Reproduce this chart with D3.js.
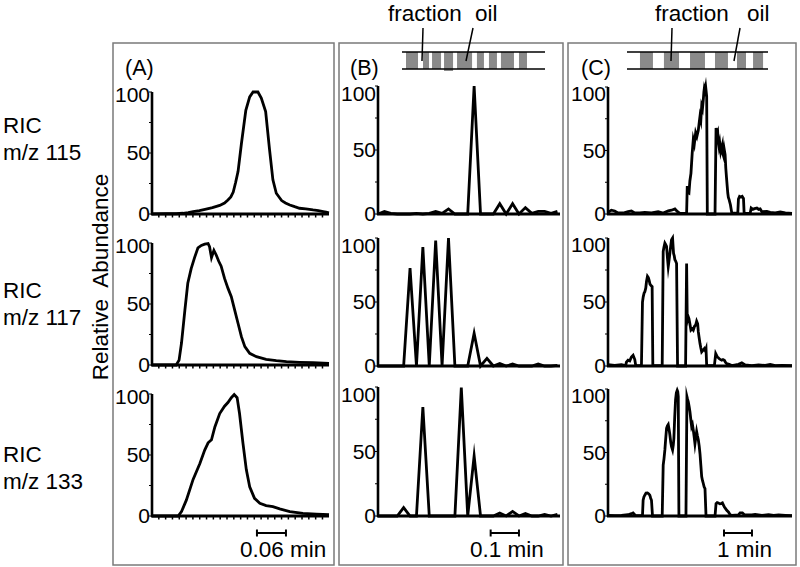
<!DOCTYPE html>
<html><head><meta charset="utf-8">
<script src="https://cdn.jsdelivr.net/npm/d3@7/dist/d3.min.js"></script>
<style>body{margin:0;background:#fff}svg{display:block}text{font-family:"Liberation Sans",Arial,Helvetica,sans-serif;fill:#000}</style>
</head><body><svg id="c" width="800" height="567"></svg>
<script>
// ---------- data ----------
const rowLabels = [["RIC","m/z 115"],["RIC","m/z 117"],["RIC","m/z 133"]];
const panelLabels = ["(A)","(B)","(C)"];
const yTickValues = [0, 50, 100];
const yTickLabels = ["0","50","100"];
const yMinorTicks = [25, 75];
const scaleBarLabels = ["0.06 min","0.1 min","1 min"];
const diagramTexts = ["fraction","oil"];

// Panel A: [time (min), relative abundance]
const panelA_mz115 = [[0,0],[0.030,0.3],[0.050,0.2],[0.064,0.6],[0.075,1.2],[0.085,2],[0.098,2.8],[0.112,4],[0.125,5.2],[0.140,7],[0.150,9],[0.157,11.5],[0.163,14],[0.168,18],[0.173,26],[0.178,35],[0.185,58],[0.194,85],[0.202,96],[0.209,100],[0.219,100],[0.226,95],[0.235,84],[0.243,53],[0.250,28],[0.257,17],[0.268,11],[0.276,9],[0.285,7.4],[0.295,6],[0.305,4.7],[0.318,4.2],[0.333,3.3],[0.344,2.8],[0.354,2],[0.360,1.5],[0.366,1]];
const panelA_mz117 = [[0,0],[0.050,0],[0.056,4],[0.061,18],[0.068,45],[0.074,67],[0.081,79],[0.088,88],[0.095,96],[0.102,98],[0.109,99],[0.116,99.5],[0.119,97],[0.123,88],[0.128,94],[0.133,90],[0.138,85],[0.143,81],[0.150,71],[0.157,63],[0.164,56],[0.171,45],[0.178,34],[0.185,23],[0.192,15],[0.202,9.6],[0.216,6.8],[0.236,4.7],[0.257,3.6],[0.278,2.7],[0.305,2.2],[0.333,1.9],[0.366,1.4]];
const panelA_mz133 = [[0,0],[0.054,0],[0.061,3.6],[0.071,13],[0.085,30],[0.099,43],[0.109,54],[0.116,60],[0.123,62.5],[0.130,73],[0.140,84],[0.150,90],[0.157,93],[0.164,97],[0.170,99.5],[0.176,97],[0.181,84],[0.188,60],[0.195,38],[0.202,24],[0.212,14.5],[0.223,10.4],[0.236,8.5],[0.250,7.7],[0.264,5.8],[0.285,3.6],[0.312,2.2],[0.340,1.6],[0.366,1.1]];

// Panel B: relative abundance per scan (scan number = index)
const panelB_mz115 = [0,2,0.5,0,0,0,0.5,0,0.5,2,0.5,4,0,0,0,100,0,0,0,8,0,8,0,5,0.5,2,2,0.5,2];
const panelB_mz117 = [0,0,0,0,0,76.5,0,93,0,98,0,100,0,0,0,25.6,0,6,0,2,0,1.5,0,0,0,1.5,0,0,0.5];
const panelB_mz133 = [0,0,0,0,6.5,0,0,84.5,0,0,0,0,0,99.5,0,46.5,0,0,0,2.3,0,3.6,0,2,0,0,1.3,0,1.3];

// Panel C: [time (s), relative abundance]
const panelC_mz115 = [[0,1.3],[7.2,3],[14.3,2.4],[21.5,0.8],[32.3,0.8],[43,1.8],[50.2,2.4],[57.4,0.8],[68.1,0.8],[78.9,1.3],[93.2,0.8],[107.6,1.8],[118.3,0.8],[129.1,2.4],[136.2,3],[143.4,4],[149.1,1.8],[154.2,0.5],[168.5,0.5],[169.9,22],[171.5,17],[173.5,16.5],[175.5,26],[177.8,32],[180.5,48],[182.8,58.5],[185,55],[187.9,64],[190.5,61],[193.6,66],[195.5,72],[197.2,77],[199,74],[200.8,85],[202.5,83],[204.3,90],[205.5,96],[206.5,99],[208,97],[209.4,100],[211.5,92.6],[212.9,0],[229.4,0],[231.6,67.7],[233.5,62],[235.2,64],[236.5,57],[238,53],[239.5,56],[241.6,49],[243.5,52],[245.2,54.6],[246.5,47],[248.1,45],[249.5,50],[251,46.7],[252.5,36],[253.8,29.6],[255.5,22],[256.7,16.5],[258,13],[259.6,11.3],[262.4,7.3],[265.3,0.8],[278.2,0.5],[279.6,11.8],[282,13.9],[284.6,13.4],[287.5,13.9],[290.4,12.3],[291.8,0.5],[304.7,0.5],[306.9,4.7],[310.5,3.6],[314,4.2],[319.1,4.7],[322.7,3.6],[326.2,4],[329.8,1.8],[340.6,2],[347.7,1.3],[358.5,0.8],[369.3,1.6],[380,0.8],[394.4,0.5]];
const panelC_mz117 = [[0,1],[14.3,0.5],[28.7,1],[38,0.3],[39.4,3],[43,4.5],[46.6,4],[50.2,7],[53.8,8.4],[57.4,5],[59.5,0.3],[71.7,0.3],[73.9,50],[75.5,54],[77.4,57],[79,58],[81,61],[82.5,66],[84.6,70],[86.5,69],[88.2,67],[90,64],[91.8,63],[94.6,62],[96.1,0.3],[116.2,0.3],[118.3,89.5],[120,93],[121.9,96],[123.5,95],[125.5,93.5],[127.5,84],[129.1,77.7],[131,83],[132.6,88],[134.5,94],[136.2,98.7],[138.4,100],[140.5,88],[142,86],[143.4,83],[145,82],[147,80],[149.1,0],[166.3,0],[168.5,80],[169.9,36],[171.5,39],[173.5,37],[175.5,33],[177.8,28],[180.5,29],[182.8,28],[185.5,31],[187.9,32],[190,35],[192.2,33],[193.5,27],[195,23],[197.2,17.5],[199,14],[200.8,11],[203,12],[206.5,13.6],[208.5,12],[210.1,13.6],[211.5,0.3],[228,0.3],[230.9,9.7],[232.5,8.5],[234.5,7],[236.5,6.5],[238,5.8],[240.5,5.2],[243.8,4.5],[246.5,5],[249.5,4.5],[252,2.8],[254.5,1.8],[259.6,1.3],[265.3,0.3],[279.6,1.3],[286.8,2.4],[294,0.8],[308.3,0.3],[322.7,0.8],[337,0.5],[347.7,1.3],[358.5,0.3],[372.8,0.5],[394.4,0.3]];
const panelC_mz133 = [[0,0.5],[14.3,0.3],[28.7,0.5],[43,1],[50.2,1.8],[53.8,2.4],[58.8,0.5],[73.9,0.3],[75.3,12.4],[77,15],[78.9,16.4],[81.5,18],[84.6,18.2],[87,17.5],[89.6,16.4],[91.5,14],[93.2,12.4],[95.4,0],[116.2,0],[118.3,40],[120,45],[121.9,52],[123.5,60],[125.5,69],[127.3,71],[129.1,72],[131,68],[132.6,64],[134.5,58],[136.2,54.6],[138.4,52],[140,56],[141.2,61],[143,78],[144.8,91.5],[146.5,97],[148.4,99],[149.5,98],[150.6,94],[152,0],[167.1,0],[169.2,94],[170.5,92],[172.1,90],[174,86],[175.7,82],[177.5,76],[179.3,70.4],[181,72],[182.8,67.8],[184.5,63],[186.4,57],[188.3,62],[190,66.5],[191.8,63],[193.6,60],[195.5,55],[197.2,49],[199,40],[200.8,31],[202.5,28],[204.3,25.6],[206,23],[207.9,21.6],[210.1,0],[229.4,0],[231.6,9.8],[234,10.6],[236.6,10.3],[239.5,9.6],[242.3,9.8],[245.2,10.3],[247.5,8.5],[249.5,7],[252,5.8],[254.5,4.5],[258.1,3.2],[261.7,1],[265.3,0.5],[279.6,0.8],[283.2,2.4],[288.2,2.4],[292.5,1],[308.3,0.8],[315.5,1.3],[329.8,0.5],[344.2,1],[354.9,0.5],[365.7,0.8],[380,0.5],[394.4,0.3]];

// axis extents / scale bars (in data units)
const spanA_min = 0.366;          // panel A x extent, minutes
const tickStepA_min = 0.0141;     // panel A minor x-ticks
const scanIntervalB_min = 0.02264;// panel B scan interval, minutes
const spanB_scans = 28.4;
const spanC_s = 394.4;            // panel C x extent, seconds
const scaleBarA = [0.217, 0.06];  // start, length (min)
const scaleBarB = [0.398, 0.1];   // start, length (min)
const scaleBarC = [248.6, 60];    // start, length (s)

// fraction / oil segments in diagrams (relative position 0..1 along tube)
const diagramB_blocks = [[0.028,0.112],[0.147,0.189],[0.210,0.273],[0.294,0.357,1],[0.385,0.490],[0.524,0.573],[0.608,0.664],[0.692,0.783],[0.818,0.874]];
const diagramC_blocks = [[0.092,0.184],[0.262,0.369],[0.447,0.553],[0.624,0.716],[0.780,0.844],[0.894,0.965]];

// ---------- drawing ----------
const svg = d3.select("#c");
svg.append("rect").attr("width",800).attr("height",567).attr("fill","#fff");

const layout = [
  {box:[113,43,334,565], xr:[152,329], top:[92,243,394], base:[214,365,516], lx:125, lbl100dy:3},
  {box:[339,43,563,565], xr:[378,560], top:[86,238,387], base:[214,366,516], lx:350, lbl100dy:8},
  {box:[568,43,796,565], xr:[608,792], top:[87,238,389], base:[214,366,516], lx:581, lbl100dy:7}
];
const FONT = 22.5;

const xScales = [
  d3.scaleLinear().domain([0, spanA_min]).range(layout[0].xr),
  d3.scaleLinear().domain([0, spanB_scans]).range(layout[1].xr),
  d3.scaleLinear().domain([0, spanC_s]).range(layout[2].xr)
];
const series = [
  [panelA_mz115, panelA_mz117, panelA_mz133],
  [panelB_mz115, panelB_mz117, panelB_mz133].map(a => a.map((v,i)=>[i,v])),
  [panelC_mz115, panelC_mz117, panelC_mz133]
];

layout.forEach((L, p) => {
  svg.append("rect").attr("x",L.box[0]).attr("y",L.box[1])
    .attr("width",L.box[2]-L.box[0]).attr("height",L.box[3]-L.box[1])
    .attr("fill","none").attr("stroke","#7a7a7a").attr("stroke-width",1.5);
  svg.append("text").attr("x",L.lx).attr("y",75).attr("font-size",21.5).text(panelLabels[p]);
  const x = xScales[p];
  for (let r=0;r<3;r++){
    const y = d3.scaleLinear().domain([0,100]).range([L.base[r], L.top[r]]);
    const g = svg.append("g");
    g.selectAll("line.mt").data(yTickValues.concat(yMinorTicks)).join("line")
      .attr("x1",L.xr[0]-3).attr("x2",L.xr[0]).attr("y1",d=>y(d)).attr("y2",d=>y(d))
      .attr("stroke","#000").attr("stroke-width",1);
    g.selectAll("text.tl").data(yTickValues).join("text")
      .attr("x",L.xr[0]-2).attr("y",(d)=>y(d)+(d===100?L.lbl100dy:0))
      .attr("dy","0.35em").attr("text-anchor","end").attr("font-size",21)
      .text((d,i)=>yTickLabels[i]);
    if (p===0){
      g.selectAll("line.xt").data(d3.range(tickStepA_min, spanA_min, tickStepA_min)).join("line")
        .attr("x1",d=>x(d)).attr("x2",d=>x(d)).attr("y1",L.base[r]).attr("y2",L.base[r]+3.5)
        .attr("stroke","#000").attr("stroke-width",1.5);
    }
    g.append("path").datum(series[p][r])
      .attr("d", d3.line().x(d=>x(d[0])).y(d=>y(d[1])))
      .attr("fill","none").attr("stroke","#000").attr("stroke-width",2.8)
      .attr("stroke-linejoin","miter").attr("stroke-miterlimit",10);
    g.append("line").attr("x1",L.xr[0]).attr("x2",L.xr[0]).attr("y1",L.top[r]).attr("y2",L.base[r]+1)
      .attr("stroke","#000").attr("stroke-width",2.6);
    g.append("line").attr("x1",L.xr[0]-1).attr("x2",L.xr[1]).attr("y1",L.base[r]).attr("y2",L.base[r])
      .attr("stroke","#000").attr("stroke-width",2.8);
  }
  let b0, b1;
  if (p===0){ b0 = x(scaleBarA[0]); b1 = x(scaleBarA[0]+scaleBarA[1]); }
  if (p===1){ b0 = x(scaleBarB[0]/scanIntervalB_min); b1 = x((scaleBarB[0]+scaleBarB[1])/scanIntervalB_min); }
  if (p===2){ b0 = x(scaleBarC[0]); b1 = x(scaleBarC[0]+scaleBarC[1]); }
  const sb = svg.append("g").attr("stroke","#000").attr("stroke-width",2);
  sb.append("line").attr("x1",b0).attr("x2",b1).attr("y1",533).attr("y2",533);
  sb.append("line").attr("x1",b0).attr("x2",b0).attr("y1",529.5).attr("y2",536.5);
  sb.append("line").attr("x1",b1).attr("x2",b1).attr("y1",529.5).attr("y2",536.5);
  const textX = [240, 470, 717][p];
  svg.append("text").attr("x",textX).attr("y",557).attr("font-size",FONT).text(scaleBarLabels[p]);
});

const rowY = [133, 298, 462];
rowLabels.forEach((lbl, r) => {
  svg.append("text").attr("x",3).attr("y",rowY[r]).attr("font-size",FONT).text(lbl[0]);
  svg.append("text").attr("x",3).attr("y",rowY[r]+27).attr("font-size",FONT).text(lbl[1]);
});
svg.append("text").attr("transform","translate(108,277) rotate(-90)")
  .attr("text-anchor","middle").attr("font-size",FONT).style("white-space","pre")
  .text("Relative  Abundance");

function diagram(x0, x1, blocks, fracX, oilX, fracPtr, oilPtr){
  const s = d3.scaleLinear().domain([0,1]).range([x0,x1]);
  const g = svg.append("g");
  g.selectAll("rect").data(blocks).join("rect")
    .attr("x",d=>s(d[0])).attr("width",d=>s(d[1])-s(d[0]))
    .attr("y",52).attr("height",d=>d[2]?19:17).attr("fill","#8a8a8a");
  [52,69].forEach(yy=>g.append("line").attr("x1",x0).attr("x2",x1).attr("y1",yy).attr("y2",yy)
    .attr("stroke","#000").attr("stroke-width",1.5));
  g.append("text").attr("x",fracX).attr("y",21).attr("font-size",FONT).text(diagramTexts[0]);
  g.append("text").attr("x",oilX).attr("y",21).attr("font-size",FONT).text(diagramTexts[1]);
  [fracPtr, oilPtr].forEach(pt=>g.append("line").attr("x1",pt[0]).attr("y1",28).attr("x2",pt[1]).attr("y2",61)
    .attr("stroke","#000").attr("stroke-width",1.5));
}
diagram(402, 545, diagramB_blocks, 388, 475, [423,422], [473,466]);
diagram(627, 768, diagramC_blocks, 655, 747, [672,671], [740,734]);
</script></body></html>
